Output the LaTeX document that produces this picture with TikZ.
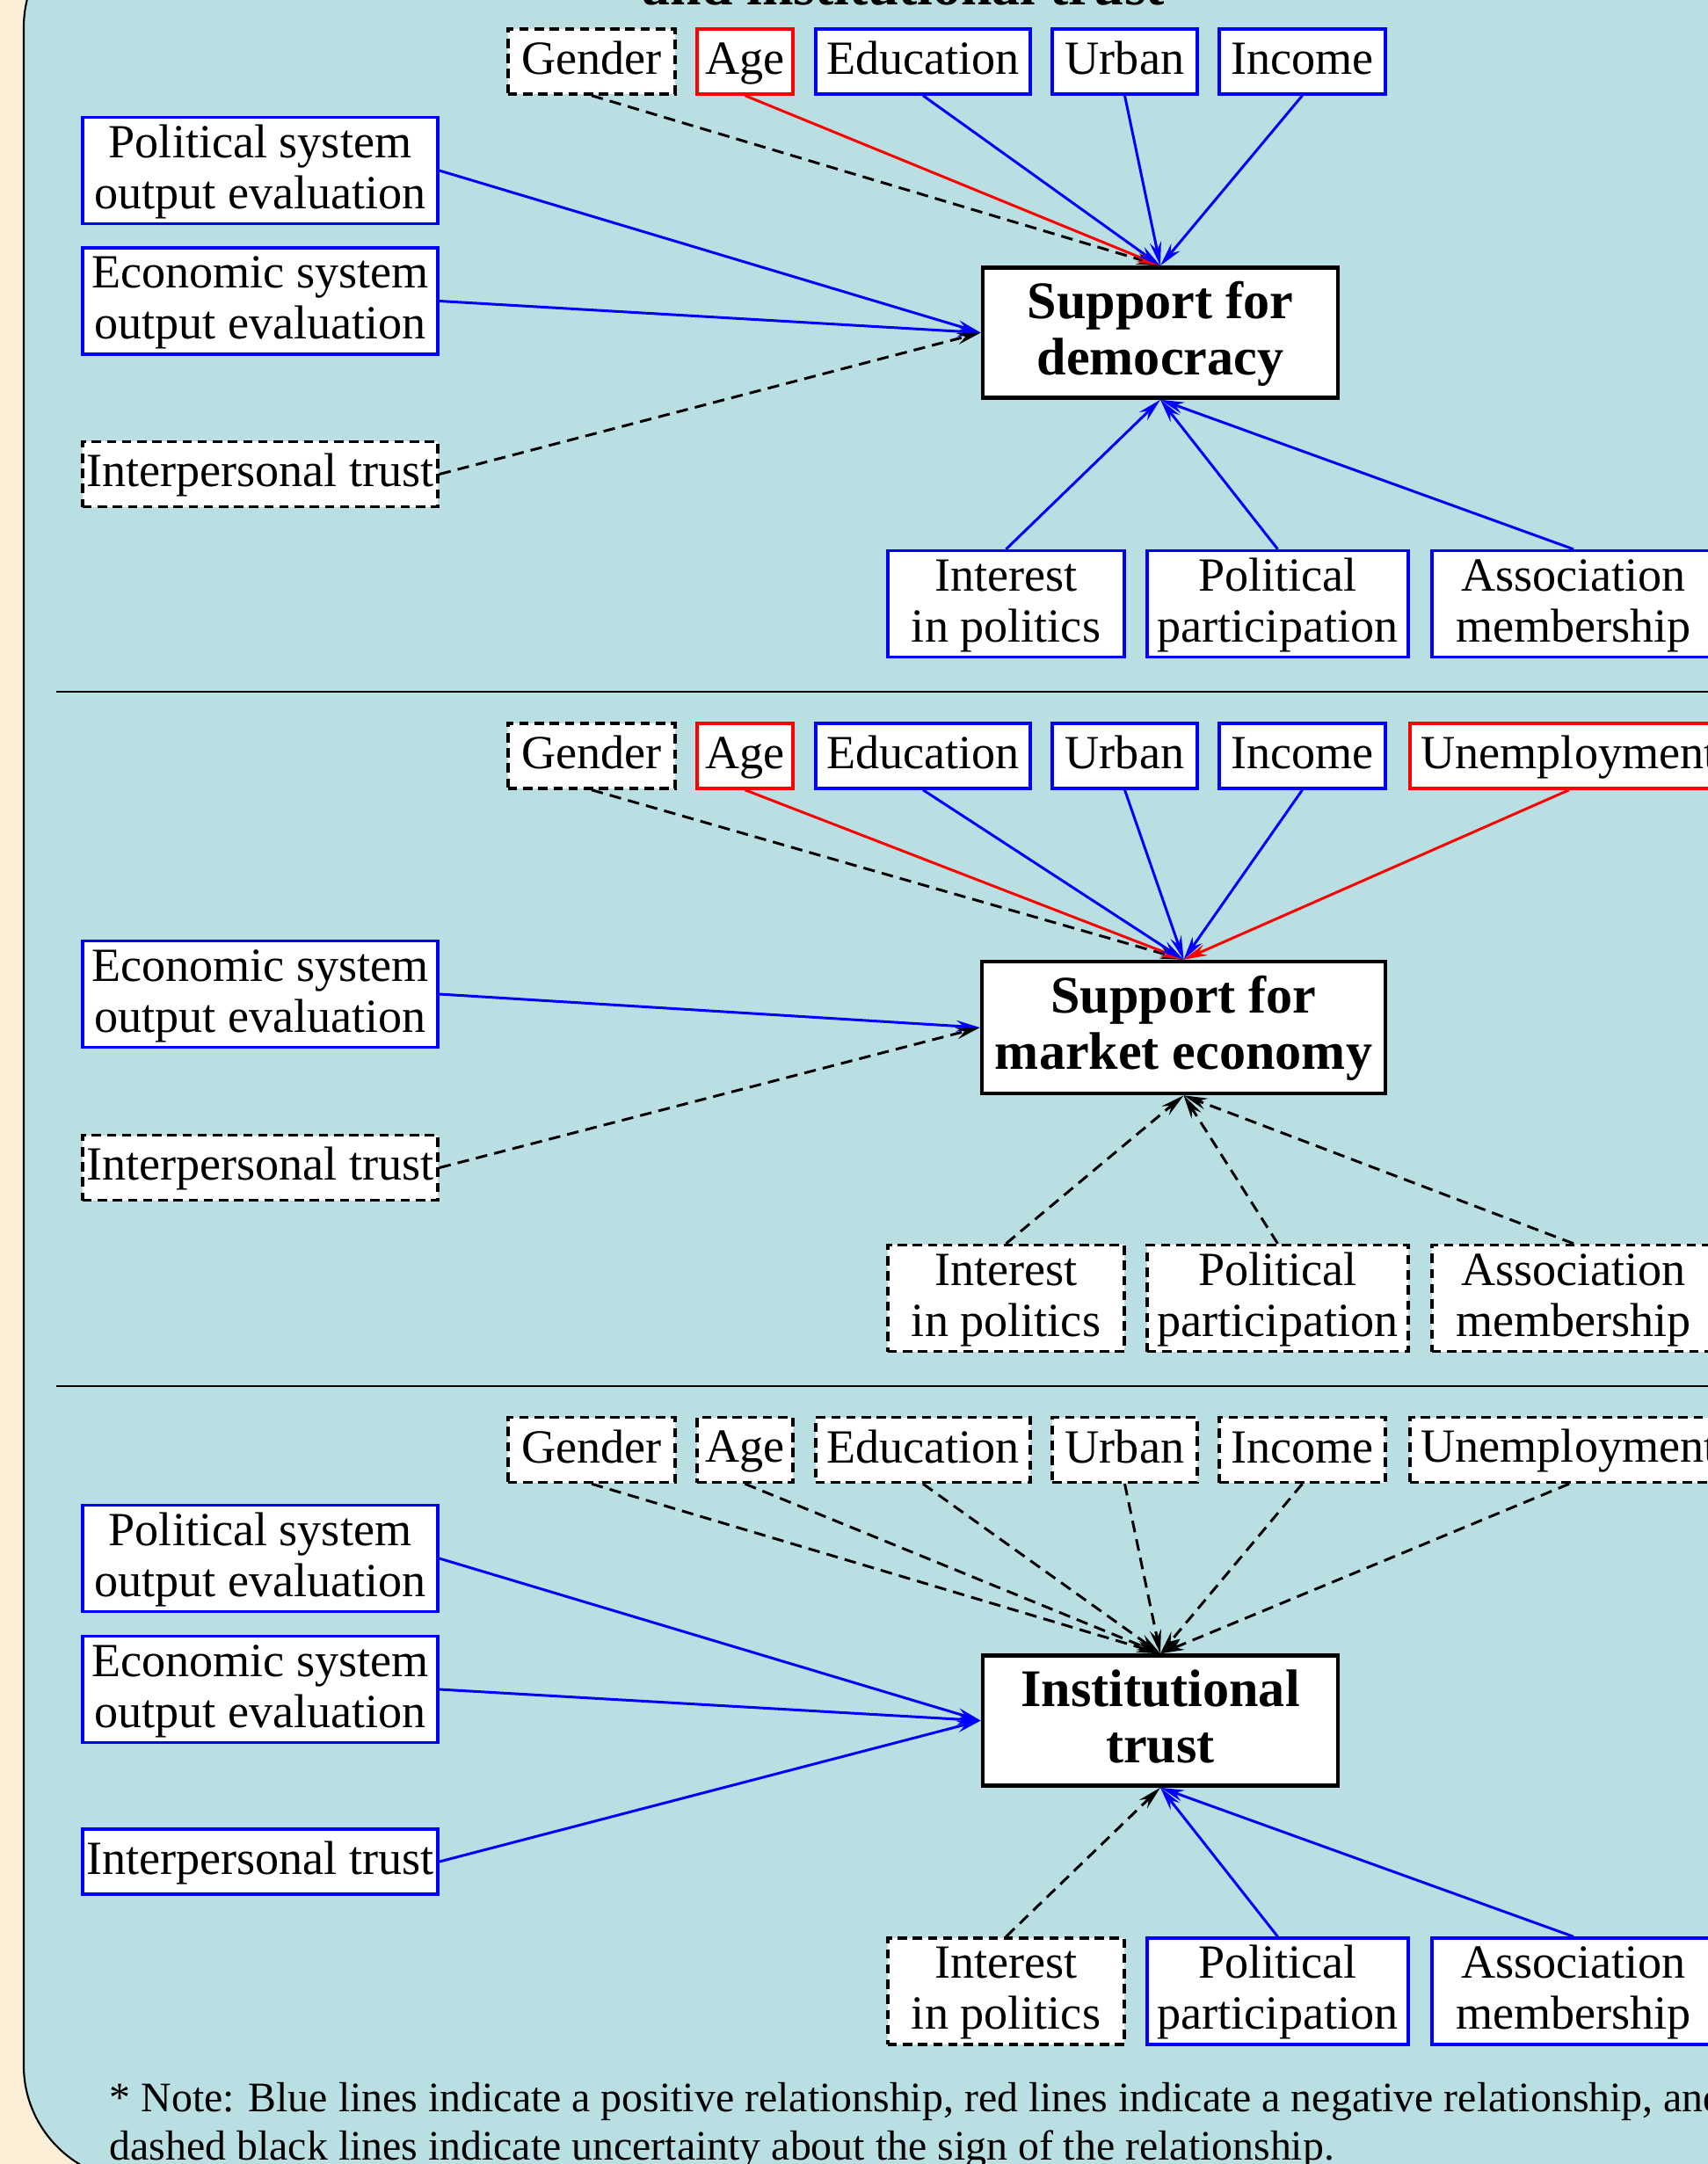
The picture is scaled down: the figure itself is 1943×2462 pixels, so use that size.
\documentclass[tikz,border=0pt]{standalone}
\usepackage{fontspec}
\setmainfont{Liberation Serif}
\usetikzlibrary{arrows.meta}
\definecolor{panel}{HTML}{B9DFE3}
\definecolor{paper}{HTML}{FBEFD8}
\newcommand{\lblfnt}{\fontsize{15.4}{16.5}\selectfont}
\newcommand{\keyfnt}{\fontsize{17.1}{18.2}\selectfont\bfseries}
\newcommand{\ttlfnt}{\fontsize{18.1}{20}\selectfont\bfseries}
\newcommand{\notefnt}{\fontsize{13.6}{15.6}\selectfont}
\newcommand{\st}{\rule[-0.20em]{0pt}{0.94em}}
\tikzset{
  box/.style={draw, fill=white, line width=0.95pt, inner sep=0pt, align=center,
    font=\lblfnt, minimum height=0.74cm},
  twoline/.style={minimum height=1.21cm},
  wide/.style={minimum width=4.04cm},
  posbox/.style={box, draw=blue},
  negbox/.style={box, draw=red},
  unkbox/.style={box, dash pattern=on 3pt off 1.9pt},
  keybox/.style={box, line width=1.25pt, font=\keyfnt, minimum width=4.04cm, minimum height=1.48cm},
  lnk/.style={line width=0.85pt, -{Stealth[length=0.27cm, width=0.13cm, inset=0.09cm]}},
  posln/.style={lnk, blue},
  negln/.style={lnk, red},
  unkln/.style={lnk, dash pattern=on 3.8pt off 2.3pt},
  sepline/.style={line width=0.6pt}
}
\begin{document}
\begin{tikzpicture}[x=0.01cm, y=-0.01cm]
  \useasboundingbox (0,0) rectangle (1943,2462);
  \clip (0,0) rectangle (1943,2462);
  \fill[paper] (0,0) rectangle (1943,2462);
  \filldraw[fill=panel, line width=0.6pt, rounded corners=1.31cm]
    (27,-100) -- (27,2481) -- (2100,2481) -- (2100,-100) -- cycle;
  \node[anchor=base, font=\ttlfnt, inner sep=0pt] (title) at (1028,5) {and institutional trust};
  \draw[sepline] (64,787) -- (2000,787);
  \draw[sepline] (64,1577) -- (2000,1577);

  % support for democracy
  \node[unkbox, minimum width=1.90cm] (gen1) at (673,70) {\st Gender};
  \node[negbox, minimum width=1.09cm] (age1) at (847.5,70) {\st Age};
  \node[posbox, minimum width=2.44cm] (edu1) at (1050,70) {\st Education};
  \node[posbox, minimum width=1.65cm] (urb1) at (1279.5,70) {\st Urban};
  \node[posbox, minimum width=1.89cm] (inc1) at (1481.5,70) {\st Income};
  \node[posbox, twoline, wide] (pol1) at (296,194) {\st Political system\\\st output evaluation};
  \node[posbox, twoline, wide] (eco1) at (296,342.5) {\st Economic system\\\st output evaluation};
  \node[unkbox, wide] (itp1) at (296,539.5) {\st Interpersonal trust};
  \node[keybox] (dem) at (1320,378.5) {\st Support for\\\st democracy};
  \node[posbox, twoline, minimum width=2.69cm] (int1) at (1144.5,687) {\st Interest\\\st in politics};
  \node[posbox, twoline, minimum width=2.97cm] (par1) at (1453.5,687) {\st Political\\\st participation};
  \node[posbox, twoline, minimum width=3.22cm] (ass1) at (1790,687) {\st Association\\\st membership};
  \draw[unkln] (gen1.south) -- (dem.north);
  \draw[negln] (age1.south) -- (dem.north);
  \draw[posln] (edu1.south) -- (dem.north);
  \draw[posln] (urb1.south) -- (dem.north);
  \draw[posln] (inc1.south) -- (dem.north);
  \draw[posln] (pol1.east) -- (dem.west);
  \draw[posln] (eco1.east) -- (dem.west);
  \draw[unkln] (itp1.east) -- (dem.west);
  \draw[posln] (int1.north) -- (dem.south);
  \draw[posln] (par1.north) -- (dem.south);
  \draw[posln] (ass1.north) -- (dem.south);

  % support for market economy
  \node[unkbox, minimum width=1.90cm] (gen2) at (673,860) {\st Gender};
  \node[negbox, minimum width=1.09cm] (age2) at (847.5,860) {\st Age};
  \node[posbox, minimum width=2.44cm] (edu2) at (1050,860) {\st Education};
  \node[posbox, minimum width=1.65cm] (urb2) at (1279.5,860) {\st Urban};
  \node[posbox, minimum width=1.89cm] (inc2) at (1481.5,860) {\st Income};
  \node[negbox, minimum width=3.62cm] (une2) at (1785,860) {\st Unemployment};
  \node[posbox, twoline, wide] (eco2) at (296,1131) {\st Economic system\\\st output evaluation};
  \node[unkbox, wide] (itp2) at (296,1328.5) {\st Interpersonal trust};
  \node[keybox, minimum width=4.59cm, minimum height=1.50cm] (mkt) at (1346.5,1169) {\st Support for\\\st market economy};
  \node[unkbox, twoline, minimum width=2.69cm] (int2) at (1144.5,1477) {\st Interest\\\st in politics};
  \node[unkbox, twoline, minimum width=2.97cm] (par2) at (1453.5,1477) {\st Political\\\st participation};
  \node[unkbox, twoline, minimum width=3.22cm] (ass2) at (1790,1477) {\st Association\\\st membership};
  \draw[unkln] (gen2.south) -- (mkt.north);
  \draw[negln] (age2.south) -- (mkt.north);
  \draw[posln] (edu2.south) -- (mkt.north);
  \draw[posln] (urb2.south) -- (mkt.north);
  \draw[posln] (inc2.south) -- (mkt.north);
  \draw[negln] (une2.south) -- (mkt.north);
  \draw[posln] (eco2.east) -- (mkt.west);
  \draw[unkln] (itp2.east) -- (mkt.west);
  \draw[unkln] (int2.north) -- (mkt.south);
  \draw[unkln] (par2.north) -- (mkt.south);
  \draw[unkln] (ass2.north) -- (mkt.south);

  % institutional trust
  \node[unkbox, minimum width=1.90cm] (gen3) at (673,1649.5) {\st Gender};
  \node[unkbox, minimum width=1.09cm] (age3) at (847.5,1649.5) {\st Age};
  \node[unkbox, minimum width=2.44cm] (edu3) at (1050,1649.5) {\st Education};
  \node[unkbox, minimum width=1.65cm] (urb3) at (1279.5,1649.5) {\st Urban};
  \node[unkbox, minimum width=1.89cm] (inc3) at (1481.5,1649.5) {\st Income};
  \node[unkbox, minimum width=3.62cm] (une3) at (1785,1649.5) {\st Unemployment};
  \node[posbox, twoline, wide] (pol3) at (296,1773) {\st Political system\\\st output evaluation};
  \node[posbox, twoline, wide] (eco3) at (296,1922) {\st Economic system\\\st output evaluation};
  \node[posbox, wide] (itp3) at (296,2118) {\st Interpersonal trust};
  \node[keybox] (trs) at (1320,1957.5) {\st Institutional\\\st trust};
  \node[unkbox, twoline, minimum width=2.69cm] (int3) at (1144.5,2265.5) {\st Interest\\\st in politics};
  \node[posbox, twoline, minimum width=2.97cm] (par3) at (1453.5,2265.5) {\st Political\\\st participation};
  \node[posbox, twoline, minimum width=3.22cm] (ass3) at (1790,2265.5) {\st Association\\\st membership};
  \draw[unkln] (gen3.south) -- (trs.north);
  \draw[unkln] (age3.south) -- (trs.north);
  \draw[unkln] (edu3.south) -- (trs.north);
  \draw[unkln] (urb3.south) -- (trs.north);
  \draw[unkln] (inc3.south) -- (trs.north);
  \draw[unkln] (une3.south) -- (trs.north);
  \draw[posln] (pol3.east) -- (trs.west);
  \draw[posln] (eco3.east) -- (trs.west);
  \draw[posln] (itp3.east) -- (trs.west);
  \draw[unkln] (int3.north) -- (trs.south);
  \draw[posln] (par3.north) -- (trs.south);
  \draw[posln] (ass3.north) -- (trs.south);

  \node[anchor=base west, font=\notefnt, inner sep=0pt] (note1) at (124,2402)
    {* Note: Blue lines indicate a positive relationship, red lines indicate a negative relationship, and};
  \node[anchor=base west, font=\notefnt, inner sep=0pt] (note2) at (124,2457)
    {dashed black lines indicate uncertainty about the sign of the relationship.};
\end{tikzpicture}
\end{document}
